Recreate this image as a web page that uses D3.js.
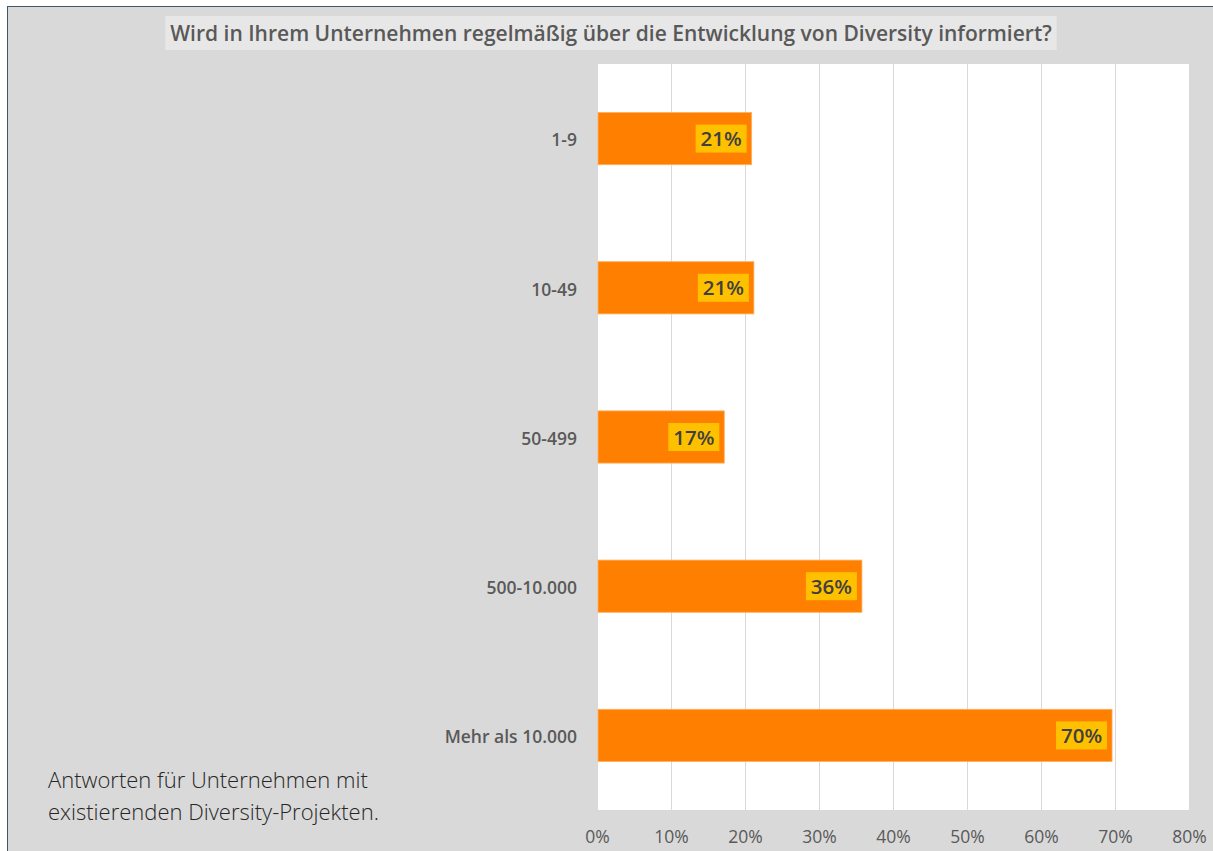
<!DOCTYPE html>
<html>
<head>
<meta charset="utf-8">
<script src="https://cdn.jsdelivr.net/npm/d3@7"></script>
<style>
  html, body { margin: 0; padding: 0; background: #fff; }
  svg { display: block; }
  text { font-family: "Open Sans", "Noto Sans", sans-serif; }
</style>
</head>
<body>
<div id="chart"></div>
<script>
'use strict';

const TITLE = 'Wird in Ihrem Unternehmen regelmäßig über die Entwicklung von Diversity informiert?';
const CATEGORIES = ['1-9', '10-49', '50-499', '500-10.000', 'Mehr als 10.000'];
const VALUES = [0.209, 0.212, 0.172, 0.358, 0.696];
const TICKS = [0, 0.1, 0.2, 0.3, 0.4, 0.5, 0.6, 0.7, 0.8];
const NOTE_LINES = ['Antworten für Unternehmen mit', 'existierenden Diversity-Projekten.'];

const W = 1213, H = 851;
const PLOT = { left: 597, right: 1189, top: 64, bottom: 810 };

const svg = d3.select('#chart').append('svg')
  .attr('width', W).attr('height', H);

// frame
svg.append('rect')
  .attr('x', 7).attr('y', 6).attr('width', W - 7).attr('height', H - 6)
  .attr('fill', '#d9d9d9');
svg.append('line')
  .attr('x1', 7).attr('x2', W).attr('y1', 6.5).attr('y2', 6.5)
  .attr('stroke', '#44546a').attr('stroke-width', 1);
svg.append('line')
  .attr('x1', 7.5).attr('x2', 7.5).attr('y1', 6).attr('y2', H)
  .attr('stroke', '#44546a').attr('stroke-width', 1);

// title
const titleBox = svg.append('rect').attr('fill', '#e7e7e7');
const title = svg.append('text')
  .attr('x', 611).attr('y', 41)
  .attr('text-anchor', 'middle')
  .attr('font-size', '21px').attr('font-weight', 600)
  .attr('fill', '#595959')
  .text(TITLE);
const tw = title.node().getComputedTextLength();
titleBox.attr('x', 611 - tw / 2 - 5).attr('y', 16)
  .attr('width', tw + 10).attr('height', 34);

const x = d3.scaleLinear().domain([0, 0.8]).range([PLOT.left, PLOT.right]);
const y = d3.scaleBand().domain(CATEGORIES).range([PLOT.top, PLOT.bottom]).paddingInner(0.65).paddingOuter(0.325);

// plot area
svg.append('rect')
  .attr('x', PLOT.left).attr('y', PLOT.top)
  .attr('width', PLOT.right - PLOT.left).attr('height', PLOT.bottom - PLOT.top)
  .attr('fill', '#fff');

// gridlines
svg.append('g')
  .selectAll('line')
  .data(TICKS)
  .join('line')
  .attr('x1', d => Math.round(x(d)) + 0.5).attr('x2', d => Math.round(x(d)) + 0.5)
  .attr('y1', PLOT.top).attr('y2', PLOT.bottom)
  .attr('stroke', '#d9d9d9').attr('stroke-width', 1);

// x axis labels
const xAxis = svg.append('g')
  .attr('transform', `translate(0,${PLOT.bottom})`)
  .call(d3.axisBottom(x).tickValues(TICKS).tickFormat(d3.format('.0%')).tickSize(0).tickPadding(21));
xAxis.select('.domain').remove();
xAxis.selectAll('text')
  .attr('font-size', '17.5px').attr('fill', '#595959')
  .attr('font-family', '"Open Sans", "Noto Sans", sans-serif');

// y axis labels
const yAxis = svg.append('g')
  .attr('transform', `translate(${PLOT.left},0)`)
  .call(d3.axisLeft(y).tickSize(0).tickPadding(20));
yAxis.select('.domain').remove();
yAxis.selectAll('text')
  .attr('dy', '0.45em')
  .attr('font-size', '17.5px').attr('font-weight', 600).attr('fill', '#595959')
  .attr('font-family', '"Open Sans", "Noto Sans", sans-serif');

// bars
const data = CATEGORIES.map((c, i) => ({ cat: c, value: VALUES[i] }));
svg.append('g')
  .selectAll('rect')
  .data(data)
  .join('rect')
  .attr('x', x(0) + 1)
  .attr('y', d => y(d.cat))
  .attr('width', d => x(d.value) - x(0) - 1)
  .attr('height', y.bandwidth())
  .attr('fill', '#ff8000')
  .attr('stroke', '#ffb060').attr('stroke-width', 0.8);

// value labels
const fmt = d3.format('.0%');
const labels = svg.append('g')
  .selectAll('g')
  .data(data)
  .join('g')
  .attr('transform', d => `translate(${x(d.value) - 5},${y(d.cat) + y.bandwidth() / 2})`);
labels.append('rect')
  .attr('x', -51).attr('y', -14)
  .attr('width', 51).attr('height', 28)
  .attr('fill', '#ffc000');
labels.append('text')
  .attr('x', -25.5).attr('y', 7.5)
  .attr('text-anchor', 'middle')
  .attr('font-size', '20.5px').attr('font-weight', 600)
  .attr('fill', '#404040')
  .text(d => fmt(d.value));

// note
svg.append('g')
  .selectAll('text')
  .data(NOTE_LINES)
  .join('text')
  .attr('x', 48).attr('y', (d, i) => 788 + i * 32)
  .attr('font-size', '22px').attr('font-weight', 300)
  .attr('fill', '#262626')
  .text(d => d);
</script>
</body>
</html>
